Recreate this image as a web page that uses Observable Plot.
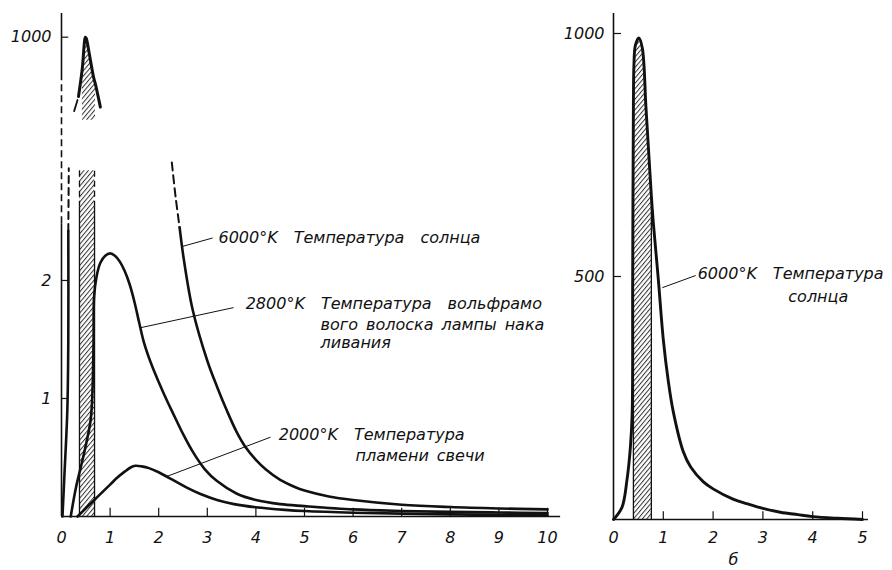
<!DOCTYPE html>
<html><head><meta charset="utf-8">
<script src="https://cdn.jsdelivr.net/npm/d3@7"></script>
<script src="https://cdn.jsdelivr.net/npm/@observablehq/plot@0.6"></script>
<style>
body{margin:0;background:#fff;}
#wrap{display:flex;width:892px;height:570px;background:#fff;}
#wrap svg{display:block;overflow:visible;}
</style></head><body><div id="wrap"></div>
<script>
// ---------------- DATA ----------------
// x: wavelength (µm); y: spectral radiance (arbitrary units)
const xTicksLeft = [0, 1, 2, 3, 4, 5, 6, 7, 8, 9, 10];
const yTicksLeft = [1, 2, 1000];
const xTicksRight = [0, 1, 2, 3, 4, 5];
const yTicksRight = [500, 1000];

// 6000 K, left panel: steep rise near the axis
const sunRiseX = [0.02, 0.06, 0.12, 0.14, 0.14];
const sunRiseY = [0, 0.35, 0.9, 1.5, 2.42];
const sunRiseDashX = [0.14, 0.15];
const sunRiseDashY = [2.42, 2.95];
// 6000 K, left panel: falling tail
const sunTailDashX = [2.27, 2.35, 2.43];
const sunTailDashY = [3.0, 2.7, 2.45];
const sunTailX = [2.43, 2.52, 2.7, 3.0, 3.2, 3.4, 3.6, 3.8, 4.0, 4.2, 4.5, 4.8, 5.0, 5.5, 6, 7, 8, 9, 10];
const sunTailY = [2.45, 2.17, 1.75, 1.32, 1.1, 0.9, 0.72, 0.58, 0.48, 0.40, 0.31, 0.25, 0.22, 0.17, 0.14, 0.10, 0.08, 0.068, 0.06];
// 6000 K, left panel: peak above the axis break
const sunPeakX = [0.35, 0.43, 0.47, 0.49, 0.51, 0.56, 0.66, 0.70, 0.80];
const sunPeakY = [750, 873, 975, 1000, 995, 944, 831, 800, 705];
const sunPeakDashX = [0.26, 0.33];
const sunPeakDashY = [688, 735];
const spikeBase = 650;
// broken y axis of the left panel: value breakpoints
const breakDomain = [0, 3.02, 640, 1100];

// 2800 K (tungsten lamp filament)
const lampX = [0.19, 0.3, 0.45, 0.6, 0.64, 0.66, 0.67, 0.72, 0.8, 0.9, 1.0, 1.1, 1.2, 1.3, 1.4, 1.5, 1.6, 1.7, 1.85, 2.0, 2.15, 2.3, 2.5, 2.7, 2.95, 3.2, 3.6, 4.0, 4.5, 5, 6, 7, 8, 9, 10];
const lampY = [0, 0.25, 0.51, 0.82, 1.1, 1.5, 1.86, 2.03, 2.15, 2.21, 2.23, 2.21, 2.16, 2.08, 1.97, 1.82, 1.64, 1.47, 1.29, 1.14, 1.0, 0.87, 0.70, 0.55, 0.40, 0.30, 0.195, 0.14, 0.105, 0.088, 0.06, 0.047, 0.039, 0.034, 0.03];
// 2000 K (candle flame)
const candleX = [0.33, 0.5, 0.75, 1.0, 1.15, 1.3, 1.42, 1.52, 1.65, 1.8, 2.0, 2.2, 2.4, 2.6, 2.86, 3.2, 3.55, 4.0, 4.6, 5, 6, 7, 8, 9, 10];
const candleY = [0, 0.07, 0.17, 0.27, 0.33, 0.38, 0.415, 0.43, 0.425, 0.41, 0.375, 0.33, 0.285, 0.24, 0.19, 0.14, 0.105, 0.078, 0.056, 0.046, 0.032, 0.024, 0.018, 0.014, 0.012];

// visible band (hatched)
const bandLeft = [0.37, 0.68];
const bandLeftTop = 2.93;
const bandLeftSolidTop = 2.62;
const bandRight = [0.40, 0.76];

// Right panel: 6000 K curve
const sunRX = [0, 0.17, 0.27, 0.34, 0.375, 0.385, 0.40, 0.41, 0.44, 0.51, 0.58, 0.65, 0.70, 0.76, 0.8, 0.9, 1.0, 1.1, 1.2, 1.4, 1.55, 1.8, 2.0, 2.4, 2.7, 3.0, 3.35, 3.7, 4.0, 4.5, 5.0];
const sunRY = [0, 25, 81, 150, 219, 494, 860, 934, 976, 991, 969, 851, 767, 666, 610, 494, 370, 285, 222, 140, 108, 78, 63, 42, 32, 23, 15, 10, 6, 2.5, 0];

// annotations (data coordinates)
const EM = "\u2003", EN = "\u2002";
const leftLabels = ["6000°K" + EM + "Температура" + EM + "солнца", "2800°K" + EM + "Температура" + EM + "вольфрамо", "вого" + EN + "волоска" + EN + "лампы" + EN + "нака", "ливания", "2000°K" + EM + "Температура", "пламени" + EN + "свечи"];
const leftLabelX = [3.23, 3.79, 5.33, 5.33, 4.47, 6.05];
const leftLabelY = [2.36, 1.80, 1.62, 1.47, 0.695, 0.51];
const leftLeadX1 = [2.50, 1.63, 2.17], leftLeadY1 = [2.29, 1.6, 0.34];
const leftLeadX2 = [3.11, 3.54, 4.30], leftLeadY2 = [2.36, 1.77, 0.672];
const rightLabels = ["6000°K" + EM + "Температура", "солнца"];
const rightLabelX = [1.69, 3.51];
const rightLabelY = [506, 459];
const rightLeadX1 = [0.98], rightLeadY1 = [477], rightLeadX2 = [1.65], rightLeadY2 = [502];
const panelMark = ["б"];

// ---------------- helpers ----------------
const pts = (xs, ys) => xs.map((x, i) => ({x, y: ys[i]}));
const rows = (a, b, c, d) => a.map((v, i) => ({x1: v, y1: b[i], x2: c[i], y2: d[i]}));
const txt = {fontFamily: "DejaVu Sans", fontStyle: "italic", fontSize: 16, fill: "#111", stroke: null};
const INK = "#111";
const curveW = 2.6;

// broken-axis transform: value -> pixel height above the baseline
const breakHeights = [0, 356.4, 394, 503];
const brk = d3.scaleLinear().domain(breakDomain).range(breakHeights);

// ---------------- LEFT PANEL ----------------
const spikeBand = pts(sunPeakX, sunPeakY).filter(d => d.x >= bandLeft[0] && d.x <= bandLeft[1] + 0.02);
const left = Plot.plot({
  width: 580, height: 570, margin: 0,
  style: {background: "transparent", overflow: "visible"},
  x: {domain: [0, 10], range: [61, 547], axis: null},
  y: {transform: v => brk(v), domain: [0, 503], range: [516, 13], axis: null},
  marks: [
    Plot.rect([bandLeft], {x1: d => d[0], x2: d => d[1], y1: 0, y2: bandLeftTop, fill: "url(#hatchL)"}),
    Plot.areaY(spikeBand, {x: "x", y1: spikeBase, y2: "y", fill: "url(#hatchL)", curve: "catmull-rom"}),
    Plot.ruleX(bandLeft, {y1: 0, y2: bandLeftSolidTop, stroke: INK, strokeWidth: 1.3}),
    Plot.ruleX(bandLeft, {y1: bandLeftSolidTop, y2: bandLeftTop, stroke: INK, strokeWidth: 1.3, strokeDasharray: "6,4"}),
    // axes
    Plot.ruleX([0], {y1: 0, y2: 2.48, stroke: INK, strokeWidth: 1.6}),
    Plot.ruleX([0], {y1: 2.48, y2: 830, stroke: INK, strokeWidth: 1.6, strokeDasharray: "7,4"}),
    Plot.ruleX([0], {y1: 830, y2: 1100, stroke: INK, strokeWidth: 1.6}),
    Plot.ruleY([0], {x1: 0, x2: 10.27, stroke: INK, strokeWidth: 1.6}),
    Plot.ruleX([10], {y1: 0, y2: 0.065, stroke: INK, strokeWidth: 1.3}),
    Plot.ruleY(yTicksLeft, {x1: 0, x2: 0.15, stroke: INK, strokeWidth: 1.2}),
    Plot.ruleX(xTicksLeft.slice(1), {y1: 0, y2: 0.07, stroke: INK, strokeWidth: 1.2}),
    Plot.text(xTicksLeft, {x: d => d, y: 0, dy: 21, text: d => String(d), ...txt}),
    Plot.text(yTicksLeft, {x: 0, y: d => d, dx: -10, text: d => String(d), textAnchor: "end", ...txt}),
    // curves
    Plot.line(pts(sunRiseX, sunRiseY), {x: "x", y: "y", stroke: INK, strokeWidth: curveW, curve: "catmull-rom"}),
    Plot.line(pts(sunRiseDashX, sunRiseDashY), {x: "x", y: "y", stroke: INK, strokeWidth: 2, strokeDasharray: "7,5"}),
    Plot.line(pts(sunTailDashX, sunTailDashY), {x: "x", y: "y", stroke: INK, strokeWidth: 2, strokeDasharray: "8,5", curve: "catmull-rom"}),
    Plot.line(pts(sunTailX, sunTailY), {x: "x", y: "y", stroke: INK, strokeWidth: curveW, curve: "catmull-rom"}),
    Plot.line(pts(sunPeakX, sunPeakY), {x: "x", y: "y", stroke: INK, strokeWidth: curveW + 0.4, curve: "catmull-rom"}),
    Plot.line(pts(sunPeakDashX, sunPeakDashY), {x: "x", y: "y", stroke: INK, strokeWidth: 1.8}),
    Plot.line(pts(lampX, lampY), {x: "x", y: "y", stroke: INK, strokeWidth: curveW, curve: "catmull-rom"}),
    Plot.line(pts(candleX, candleY), {x: "x", y: "y", stroke: INK, strokeWidth: curveW, curve: "catmull-rom"}),
    // annotations
    Plot.link(rows(leftLeadX1, leftLeadY1, leftLeadX2, leftLeadY2), {x1: "x1", y1: "y1", x2: "x2", y2: "y2", stroke: INK, strokeWidth: 1}),
    Plot.text(leftLabels, {x: (d, i) => leftLabelX[i], y: (d, i) => leftLabelY[i], text: d => d, textAnchor: "start", ...txt})
  ]
});

// ---------------- RIGHT PANEL ----------------
const rightBand = pts(sunRX, sunRY).filter(d => d.x >= bandRight[0] && d.x <= bandRight[1]);
const right = Plot.plot({
  width: 312, height: 570, margin: 0,
  style: {background: "transparent", overflow: "visible"},
  x: {domain: [0, 5], range: [33, 282], axis: null},
  y: {domain: [0, 1000], range: [519, 33], axis: null},
  marks: [
    Plot.areaY(rightBand, {x: "x", y: "y", fill: "url(#hatchR)", curve: "catmull-rom"}),
    Plot.ruleX(bandRight, {y1: 0, y2: (d, i) => rightBand[i === 0 ? 0 : rightBand.length - 1].y, stroke: INK, strokeWidth: 1.3}),
    Plot.ruleX([0], {y1: 0, y2: 1041, stroke: INK, strokeWidth: 1.6}),
    Plot.ruleY([0], {x1: 0, x2: 5.12, stroke: INK, strokeWidth: 1.6}),
    Plot.ruleY(yTicksRight, {x1: 0, x2: 0.16, stroke: INK, strokeWidth: 1.2}),
    Plot.ruleX(xTicksRight.slice(1), {y1: 0, y2: 16, stroke: INK, strokeWidth: 1.2}),
    Plot.text(xTicksRight, {x: d => d, y: 0, dy: 18, text: d => String(d), ...txt}),
    Plot.text(yTicksRight, {x: 0, y: d => d, dx: -9, text: d => String(d), textAnchor: "end", ...txt}),
    Plot.text(panelMark, {x: 2.41, y: 0, dy: 40, text: d => d, ...txt}),
    Plot.line(pts(sunRX, sunRY), {x: "x", y: "y", stroke: INK, strokeWidth: curveW + 0.3, curve: "catmull-rom"}),
    Plot.link(rows(rightLeadX1, rightLeadY1, rightLeadX2, rightLeadY2), {x1: "x1", y1: "y1", x2: "x2", y2: "y2", stroke: INK, strokeWidth: 1}),
    Plot.text(rightLabels, {x: (d, i) => rightLabelX[i], y: (d, i) => rightLabelY[i], text: d => d, textAnchor: "start", ...txt})
  ]
});

function addHatch(svg, id) {
  d3.select(svg).insert("defs", ":first-child").html(
    `<pattern id="${id}" patternUnits="userSpaceOnUse" width="3.4" height="3.4" patternTransform="rotate(40)">` +
    `<rect width="3.4" height="3.4" fill="white"/>` +
    `<line x1="0.5" y1="0" x2="0.5" y2="3.4" stroke="#333" stroke-width="1"/></pattern>`);
}
addHatch(left, "hatchL");
addHatch(right, "hatchR");
document.getElementById("wrap").append(left, right);
</script></body></html>
